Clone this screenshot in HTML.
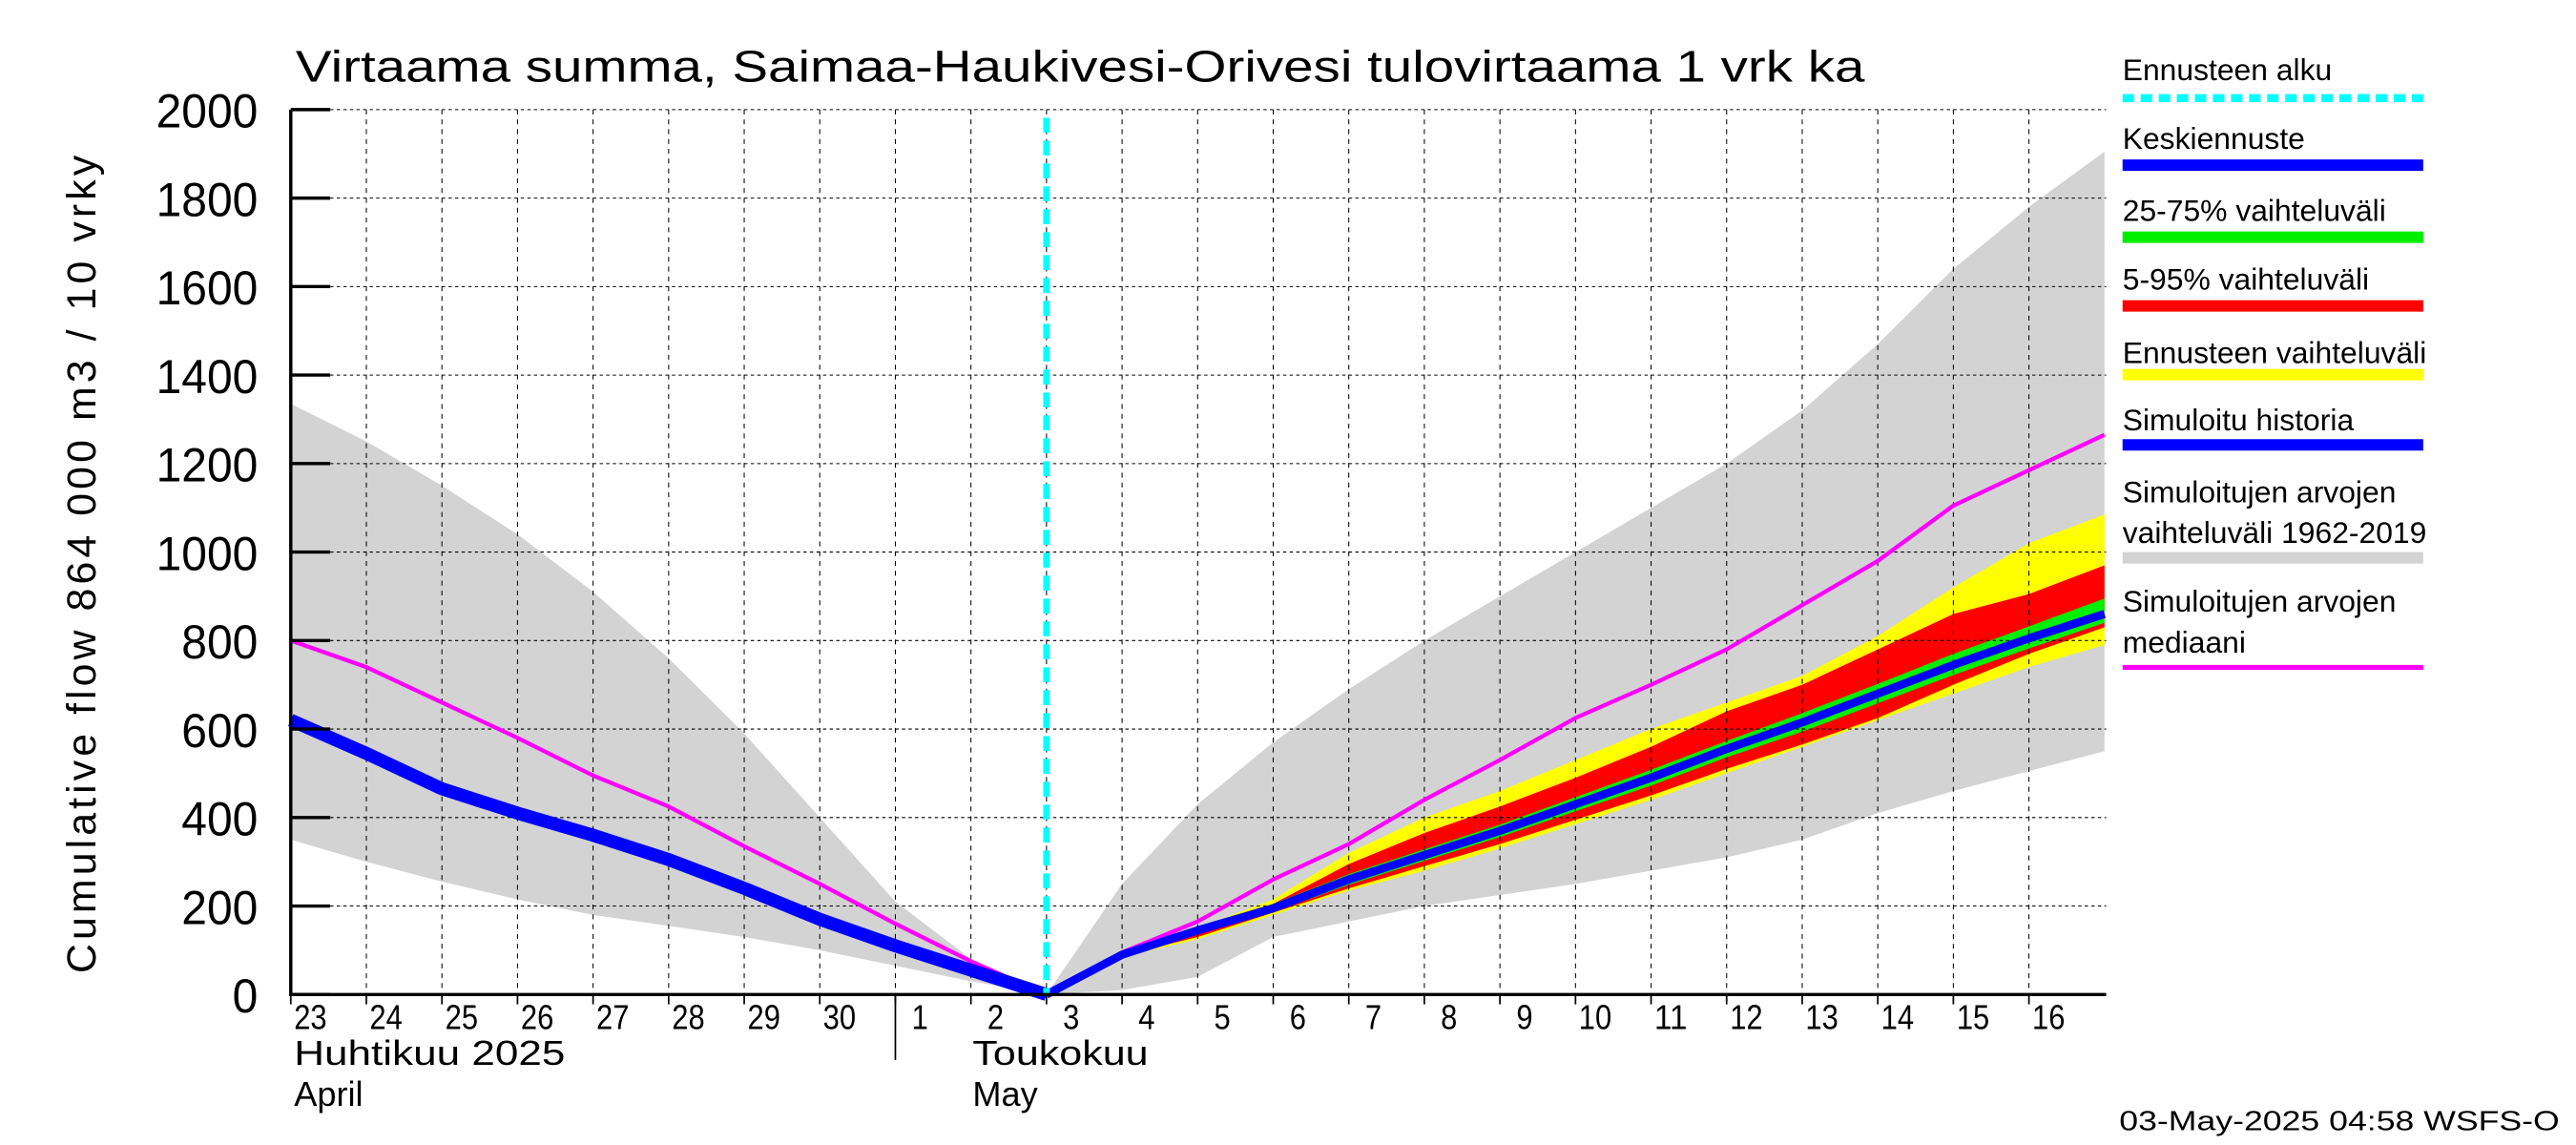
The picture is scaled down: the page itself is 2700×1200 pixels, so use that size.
<!DOCTYPE html>
<html><head><meta charset="utf-8"><style>
html,body{margin:0;padding:0;background:#fff;}
svg{display:block;}
text{font-family:"Liberation Sans",sans-serif;fill:#000;}
</style></head><body>
<svg id="chart" width="2700" height="1200" viewBox="0 0 1568 700" preserveAspectRatio="none" xmlns="http://www.w3.org/2000/svg">
<rect width="1568" height="700" fill="#fff"/>
<g id="bands"></g>
<g id="grid"></g>
<g id="lines"></g>
<g id="axes"></g>
<text x="180" y="50" font-size="27" textLength="955" lengthAdjust="spacingAndGlyphs">Virtaama summa, Saimaa-Haukivesi-Orivesi tulovirtaama 1 vrk ka</text>
<text transform="translate(58,345) rotate(-90)" text-anchor="middle" font-size="25" textLength="500" lengthAdjust="spacing">Cumulative flow    864 000 m3 / 10 vrky</text>
<text x="179" y="651" font-size="21" textLength="165" lengthAdjust="spacingAndGlyphs">Huhtikuu  2025</text>
<text x="179" y="676" font-size="21">April</text>
<text x="592" y="651" font-size="21" textLength="107" lengthAdjust="spacingAndGlyphs">Toukokuu</text>
<text x="592" y="676" font-size="21">May</text>
<line x1="545" y1="608" x2="545" y2="648" stroke="#000" stroke-width="1"/>
<text x="1290" y="691" font-size="17" textLength="268" lengthAdjust="spacingAndGlyphs">03-May-2025 04:58 WSFS-O</text>
<g id="legend"></g>
</svg>
<script>
const dayLabels=["23","24","25","26","27","28","29","30","1","2","3","4","5","6","7","8","9","10","11","12","13","14","15","16"];
const yTicks=[0,200,400,600,800,1000,1200,1400,1600,1800,2000];
const histIdx=[0,1,2,3,4,5,6,7,8,9,10];
const histBlue=[620,545,465,410,360,305,240,170,110,55,0];
const fcIdx=[10,11,12,13,14,15,16,17,18,19,20,21,22,23,24];
const fcBlue=[0,90,145,195,260,315,370,430,490,555,615,680,745,805,860];
const allIdx=[0,1,2,3,4,5,6,7,8,9,10,11,12,13,14,15,16,17,18,19,20,21,22,23,24];
const median=[800,740,660,580,495,425,335,250,160,75,0,95,165,260,340,440,530,625,700,780,880,980,1105,1185,1265];
const greyHi=[1335,1250,1150,1040,910,760,590,400,210,80,0,250,430,570,690,800,900,1000,1100,1200,1320,1470,1640,1780,1905];
const greyLo=[350,300,255,215,180,155,130,100,65,30,0,10,40,130,165,200,225,250,280,310,350,410,460,505,550];
const yelHi=[0,95,150,215,320,400,460,530,600,660,720,810,920,1020,1085];
const yelLo=[0,85,125,180,235,280,330,385,440,500,560,620,680,740,790];
const redHi=[0,95,145,205,295,365,425,490,560,640,700,780,860,905,970];
const redLo=[0,88,130,185,240,290,340,395,450,510,565,625,700,770,830];
const grnHi=[0,92,152,205,272,328,384,446,508,573,636,702,770,832,895];
const grnLo=[0,86,138,186,248,302,356,414,472,536,594,658,722,782,840];

const X0=177,X1=1282,DAY=46,Y0=608,YTOP=67,YMAX=2000;
function xs(i){return X0+DAY*i;}
function ys(v){return Y0-(Y0-YTOP)*v/YMAX;}
const NS="http://www.w3.org/2000/svg";
function mk(tag,attrs,parent){const e=document.createElementNS(NS,tag);for(const k in attrs)e.setAttribute(k,attrs[k]);parent.appendChild(e);return e;}
function band(idx,hi,lo,color,name,parent){
  let d="";idx.forEach((i,k)=>{d+=(k?"L":"M")+xs(i)+","+ys(hi[k]);});
  for(let k=idx.length-1;k>=0;k--)d+="L"+xs(idx[k])+","+ys(lo[k]);
  const p=mk("path",{d:d+"Z",fill:color},parent);
  
  
}
function line(idx,vals,color,w,name,parent){
  const pts=idx.map((i,k)=>xs(i)+","+ys(vals[k])).join(" ");
  const p=mk("polyline",{points:pts,fill:"none",stroke:color,"stroke-width":w,"stroke-linejoin":"round"},parent);
  
  
}
const bands=document.getElementById("bands"),grid=document.getElementById("grid"),lines=document.getElementById("lines"),axes=document.getElementById("axes");
band(allIdx,greyHi,greyLo,"#d3d3d3","simulated-range-band",bands);
band(fcIdx,yelHi,yelLo,"#ffff00","forecast-range-band",bands);
band(fcIdx,redHi,redLo,"#ff0000","band-5-95",bands);
band(fcIdx,grnHi,grnLo,"#00ee00","band-25-75",bands);
for(let i=1;i<24;i++){
  const g=mk("line",{x1:xs(i),x2:xs(i),y1:YTOP,y2:Y0,stroke:"#000","stroke-width":0.6,"stroke-dasharray":"3,3"},grid);
  
  
}
yTicks.forEach(v=>{
  if(v>0){const g=mk("line",{x1:X0,x2:X1,y1:ys(v),y2:ys(v),stroke:"#000","stroke-width":0.6,"stroke-dasharray":"2,2"},grid);
  
  }
  const t=mk("line",{x1:X0,x2:X0+24,y1:ys(v),y2:ys(v),stroke:"#000","stroke-width":2},axes);
  
  
  const l=mk("text",{x:157,y:ys(v)+11,"text-anchor":"end","font-size":29,textLength:String(v).length*15.5,lengthAdjust:"spacingAndGlyphs"},axes);
  l.textContent=v;
  
  
});
dayLabels.forEach((d,i)=>{
  const t=mk("line",{x1:xs(i),x2:xs(i),y1:Y0,y2:Y0+6,stroke:"#000","stroke-width":1},axes);
  
  
  const l=mk("text",{x:xs(i)+(d.length==2?2:10),y:629,"font-size":21,textLength:d.length*10,lengthAdjust:"spacingAndGlyphs"},axes);
  l.textContent=d;
  
  
});
const ax=mk("path",{d:`M${X0},${YTOP}L${X0},${Y0}L${X1},${Y0}`,fill:"none",stroke:"#000","stroke-width":2},axes);


line(allIdx,median,"#ff00ff",2.5,"median-line",lines);
line(histIdx,histBlue,"#0000ff",8,"simulated-history-line",lines);
line(fcIdx,fcBlue,"#0000ff",5,"mean-forecast-line",lines);
const fs=mk("line",{x1:637,x2:637,y1:72,y2:608,stroke:"#00ffff","stroke-width":4,"stroke-dasharray":"9,5"},lines);


const legend=document.getElementById("legend");
const legLabels=[["Ennusteen alku"],["Keskiennuste"],["25-75% vaihteluväli"],["5-95% vaihteluväli"],["Ennusteen vaihteluväli"],["Simuloitu historia"],["Simuloitujen arvojen","vaihteluväli 1962-2019"],["Simuloitujen arvojen","mediaani"]];
const legColors=["#00ffff","#0000ff","#00ee00","#ff0000","#ffff00","#0000ff","#d3d3d3","#ff00ff"];
const legTextY=[49,91,135,177,222,263,307,374];
const legLineY=[60,101,145,187,229,272,341,408];
legLabels.forEach((lab,k)=>{
  lab.forEach((s,j)=>{
    const t=mk("text",{x:1292,y:legTextY[k]+j*25,"font-size":18.5},legend);
    t.textContent=s;
    
    
  });
  const attrs={x1:1292,x2:1475,y1:legLineY[k],y2:legLineY[k],stroke:legColors[k],"stroke-width":k==0?5:(k==7?3:7)};
  if(k==0)attrs["stroke-dasharray"]="7,4";
  const l=mk("line",attrs,legend);
  
  
});
</script>
</body></html>
